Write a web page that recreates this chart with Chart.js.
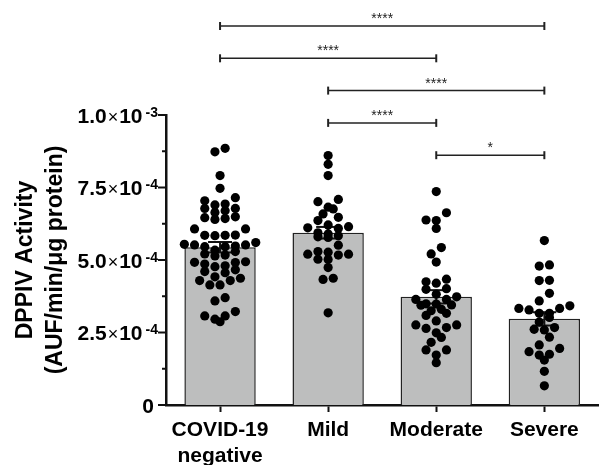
<!DOCTYPE html>
<html>
<head>
<meta charset="utf-8">
<script src="https://cdn.jsdelivr.net/npm/chart.js@4.4.0/dist/chart.umd.min.js"></script>
<style>
body { margin: 0; background: #fff; }
</style>
</head>
<body>
<canvas id="dppivChart" width="603" height="465"></canvas>
<script>
// groups and summary values (bar = mean, whisker = SEM)
var groups = [['COVID-19', 'negative'], 'Mild', 'Moderate', 'Severe'];
var groupMeans = [5.44e-4, 5.94e-4, 3.73e-4, 2.97e-4];
var groupSems = [0.18e-4, 0.20e-4, 0.23e-4, 0.23e-4];

// individual samples
var covidNegative = [8.73e-4, 8.85e-4, 7.91e-4, 7.47e-4, 7.15e-4, 6.93e-4, 6.78e-4, 6.70e-4,
    6.64e-4, 6.78e-4, 6.90e-4, 7.04e-4, 6.46e-4, 6.40e-4, 6.43e-4, 6.49e-4, 6.07e-4, 6.07e-4,
    5.85e-4, 5.84e-4, 5.86e-4, 5.85e-4, 5.46e-4, 5.46e-4, 5.52e-4, 5.54e-4, 5.60e-4, 5.48e-4,
    5.52e-4, 5.29e-4, 5.17e-4, 5.14e-4, 5.21e-4, 5.34e-4, 4.92e-4, 4.80e-4, 4.91e-4, 4.77e-4,
    4.86e-4, 4.94e-4, 4.66e-4, 4.56e-4, 4.60e-4, 4.37e-4, 4.29e-4, 4.29e-4, 4.42e-4, 4.14e-4,
    4.14e-4, 3.70e-4, 3.59e-4, 3.22e-4, 3.07e-4, 2.87e-4, 2.96e-4, 3.07e-4];
var mild = [8.60e-4, 8.30e-4, 7.91e-4, 7.09e-4, 7.01e-4, 6.76e-4, 6.82e-4, 6.59e-4, 6.36e-4,
    6.47e-4, 6.15e-4, 6.09e-4, 6.11e-4, 6.21e-4, 5.84e-4, 5.78e-4, 5.90e-4, 5.80e-4, 5.94e-4,
    5.51e-4, 5.29e-4, 5.20e-4, 5.17e-4, 5.02e-4, 5.03e-4, 5.20e-4, 5.27e-4, 4.74e-4, 4.37e-4,
    4.33e-4, 3.18e-4];
var moderate = [7.36e-4, 6.63e-4, 6.38e-4, 6.36e-4, 6.09e-4, 5.43e-4, 5.21e-4, 4.93e-4, 4.34e-4,
    4.25e-4, 4.20e-4, 3.99e-4, 4.01e-4, 3.73e-4, 3.82e-4, 3.64e-4, 3.64e-4, 3.48e-4, 3.44e-4,
    3.45e-4, 3.49e-4, 3.25e-4, 3.16e-4, 3.30e-4, 3.09e-4, 2.90e-4, 2.76e-4, 2.76e-4, 2.64e-4,
    2.67e-4, 2.49e-4, 2.33e-4, 2.16e-4, 1.90e-4, 1.90e-4, 1.72e-4, 1.46e-4];
var severe = [5.67e-4, 4.83e-4, 4.79e-4, 4.30e-4, 4.29e-4, 3.85e-4, 3.59e-4, 3.28e-4, 3.33e-4,
    3.33e-4, 3.42e-4, 3.16e-4, 3.02e-4, 3.16e-4, 2.86e-4, 2.67e-4, 2.59e-4, 2.61e-4, 2.34e-4,
    2.07e-4, 1.95e-4, 1.84e-4, 1.75e-4, 1.72e-4, 1.55e-4, 1.16e-4, 0.66e-4];

// significance brackets: [from group, to group, stars]
var comparisons = [[0, 3, '****'], [0, 2, '****'], [1, 3, '****'], [1, 2, '****'], [2, 3, '*']];

var yTickValues = [0, 2.5e-4, 5.0e-4, 7.5e-4, 1.0e-3];
var yTickLabels = ['0', '2.5×10^-4', '5.0×10^-4', '7.5×10^-4', '1.0×10^-3'];

var FONT = '"Liberation Sans", Arial, sans-serif';
var swarmGroups = [covidNegative, mild, moderate, severe];

function strokeLine(ctx, x1, y1, x2, y2) {
    ctx.beginPath();
    ctx.moveTo(x1, y1);
    ctx.lineTo(x2, y2);
    ctx.stroke();
}

// tick marks + labels with superscript exponent
var yAxisLabels = {
    id: 'yAxisLabels',
    afterDraw: function (chart) {
        var ctx = chart.ctx, y = chart.scales.y, x0 = chart.chartArea.left;
        ctx.save();
        ctx.strokeStyle = '#111';
        ctx.lineWidth = 2;
        ctx.fillStyle = '#000';
        ctx.textAlign = 'right';
        ctx.textBaseline = 'alphabetic';
        for (var i = 0; i < yTickValues.length; i++) {
            var py = y.getPixelForValue(yTickValues[i]);
            strokeLine(ctx, x0 - 8, py, x0, py);
            if (i < yTickValues.length - 1) {
                var pm = y.getPixelForValue((yTickValues[i] + yTickValues[i + 1]) / 2);
                strokeLine(ctx, x0 - 4, pm, x0, pm);
            }
            var parts = yTickLabels[i].split('^');
            var base = py + 7.5;
            if (parts.length > 1) {
                var right = x0 - 8;
                ctx.font = 'bold 14px ' + FONT;
                ctx.fillText(parts[1], right, py + 1.5);
                right -= ctx.measureText(parts[1]).width + 3;
                var m = parts[0].split('×');
                ctx.font = 'bold 21px ' + FONT;
                ctx.fillText(m[1], right, base);
                right -= ctx.measureText(m[1]).width + 1;
                ctx.font = '18px ' + FONT;
                ctx.fillText('×', right, base);
                right -= ctx.measureText('×').width + 1;
                ctx.font = 'bold 21px ' + FONT;
                ctx.fillText(m[0], right, base);
            } else {
                ctx.font = 'bold 21px ' + FONT;
                ctx.fillText(parts[0], x0 - 12, base);
            }
        }
        ctx.restore();
    }
};

var errorBars = {
    id: 'errorBars',
    afterDatasetDraw: function (chart, args) {
        if (args.index !== 0) return;
        var ctx = chart.ctx, x = chart.scales.x, y = chart.scales.y;
        ctx.save();
        ctx.strokeStyle = '#111';
        ctx.lineWidth = 2;
        for (var i = 0; i < groupMeans.length; i++) {
            var cx = x.getPixelForValue(i);
            var top = y.getPixelForValue(groupMeans[i] + groupSems[i]);
            var bot = y.getPixelForValue(groupMeans[i] - groupSems[i]);
            strokeLine(ctx, cx, top, cx, bot);
            strokeLine(ctx, cx - 12, top, cx + 12, top);
            strokeLine(ctx, cx - 12, bot, cx + 12, bot);
        }
        ctx.restore();
    }
};

var brackets = {
    id: 'brackets',
    afterDraw: function (chart) {
        var ctx = chart.ctx, x = chart.scales.x;
        ctx.save();
        ctx.strokeStyle = '#222';
        ctx.fillStyle = '#222';
        ctx.textAlign = 'center';
        ctx.textBaseline = 'alphabetic';
        ctx.font = '14px ' + FONT;
        comparisons.forEach(function (c, k) {
            var py = 26 + k * 32.3;
            var xa = x.getPixelForValue(c[0]), xb = x.getPixelForValue(c[1]);
            ctx.lineWidth = 1.5;
            strokeLine(ctx, xa, py, xb, py);
            ctx.lineWidth = 2;
            strokeLine(ctx, xa, py - 4, xa, py + 4);
            strokeLine(ctx, xb, py - 4, xb, py + 4);
            ctx.fillText(c[2], (xa + xb) / 2, py - 3);
        });
        ctx.restore();
    }
};

// Prism-style scatter: dots grouped in rows by height, rows spread centre-out
function rowOffsets(vals, yScale, rowH, gap) {
    var order = vals.map(function (v, i) { return { i: i, py: yScale.getPixelForValue(v) }; });
    order.sort(function (a, b) { return a.py - b.py; });
    var rows = [], cur = null;
    order.forEach(function (p) {
        if (!cur || p.py - cur.start > rowH) {
            cur = { start: p.py, pts: [] };
            rows.push(cur);
        }
        cur.pts.push(p);
    });
    var out = [];
    rows.forEach(function (r) {
        var n = r.pts.length;
        // lowest value goes in the middle, others alternate outwards
        var pts = r.pts.slice().sort(function (a, b) { return b.py - a.py; });
        var slots = [];
        for (var k = 0; k < n; k++) slots.push((k - (n - 1) / 2) * gap);
        slots.sort(function (a, b) { return Math.abs(a) - Math.abs(b) || a - b; });
        pts.forEach(function (p, k) { out[p.i] = slots[k]; });
    });
    return out;
}

var ctx = document.getElementById('dppivChart').getContext('2d');
var startPoints = [];
swarmGroups.forEach(function (vals, g) {
    vals.forEach(function (v) { startPoints.push({ x: g, y: v }); });
});

var chart = new Chart(ctx, {
    type: 'bar',
    data: {
        labels: groups,
        datasets: [{
            type: 'bar',
            data: groupMeans,
            xAxisID: 'x',
            yAxisID: 'y',
            order: 2,
            grouped: false,
            backgroundColor: '#bdbebe',
            borderColor: '#222',
            borderWidth: 1.5,
            barPercentage: 0.66,
            categoryPercentage: 1
        }, {
            type: 'scatter',
            data: startPoints,
            xAxisID: 'xs',
            yAxisID: 'y',
            order: 1,
            pointRadius: 4.6,
            pointHoverRadius: 4.6,
            pointBackgroundColor: '#000',
            pointBorderWidth: 0
        }]
    },
    options: {
        responsive: false,
        animation: false,
        events: [],
        layout: { padding: { top: 115, right: 1, left: 0, bottom: 0 } },
        plugins: { legend: { display: false }, tooltip: { enabled: false } },
        scales: {
            x: {
                type: 'category',
                offset: true,
                afterFit: function (s) { s.height = 60; },
                grid: {
                    display: true,
                    drawOnChartArea: false,
                    offset: false,
                    tickLength: 7,
                    tickWidth: 2,
                    tickColor: '#111'
                },
                border: { display: true, color: '#111', width: 2.5 },
                ticks: {
                    color: '#000',
                    padding: 5,
                    maxRotation: 0,
                    font: { family: FONT, size: 21, weight: 'bold', lineHeight: '26px' }
                }
            },
            xs: {
                type: 'linear',
                display: false,
                offset: false,
                min: -0.5,
                max: 3.5
            },
            y: {
                type: 'linear',
                min: 0,
                max: 1.0e-3,
                afterFit: function (s) { s.width = 166; },
                grid: { display: false },
                border: { display: true, color: '#111', width: 2.5 },
                ticks: { display: false, stepSize: 1.25e-4 },
                title: {
                    display: true,
                    text: ['DPPIV Activity', '(AUF/min/μg protein)'],
                    color: '#000',
                    padding: { top: 11, bottom: 0 },
                    font: { family: FONT, size: 23, weight: 'bold', lineHeight: '30px' }
                }
            }
        }
    },
    plugins: [errorBars, yAxisLabels, brackets]
});

// second pass: spread the dots once the scales know their pixels
(function () {
    var yScale = chart.scales.y, xs = chart.scales.xs;
    var unit = xs.getPixelForValue(1) - xs.getPixelForValue(0);
    var pts = [];
    swarmGroups.forEach(function (vals, g) {
        var offs = rowOffsets(vals, yScale, 8, 10.2);
        vals.forEach(function (v, i) { pts.push({ x: g + offs[i] / unit, y: v }); });
    });
    chart.data.datasets[1].data = pts;
    chart.update('none');
})();
</script>
</body>
</html>
